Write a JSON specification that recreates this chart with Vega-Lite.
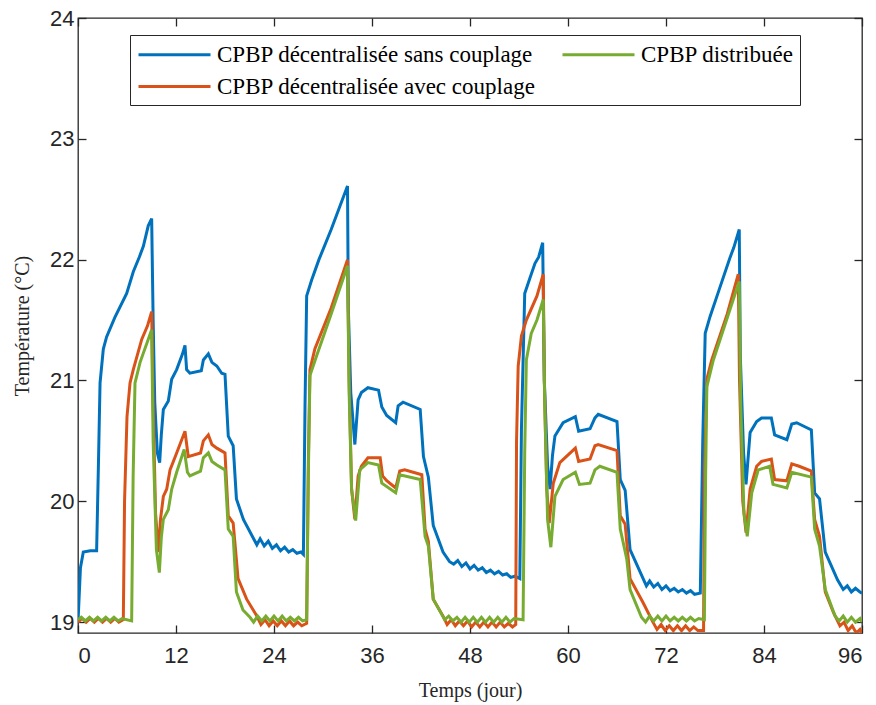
{
  "$schema": "https://vega.github.io/schema/vega-lite/v6.json",
  "autosize": "none",
  "width": 784,
  "height": 615,
  "padding": {"left": 78, "top": 18, "right": 14, "bottom": 72},
  "background": "white",
  "config": {
    "view": {"stroke": "#262626", "strokeWidth": 1.3},
    "axis": {
      "grid": false,
      "domain": false,
      "tickColor": "#262626",
      "tickWidth": 1.3,
      "tickSize": -8,
      "labelFont": "Liberation Sans",
      "labelFontSize": 22,
      "labelColor": "#262626",
      "titleFont": "Liberation Serif",
      "titleFontSize": 20,
      "titleFontWeight": "normal",
      "titleColor": "#262626"
    }
  },
  "datasets": {
    "curves": [
      {"serie": "CPBP décentralisée sans couplage", "t": 0, "T": 19.0},
      {"serie": "CPBP décentralisée sans couplage", "t": 0.3, "T": 19.45},
      {"serie": "CPBP décentralisée sans couplage", "t": 0.65, "T": 19.58},
      {"serie": "CPBP décentralisée sans couplage", "t": 1.5, "T": 19.59},
      {"serie": "CPBP décentralisée sans couplage", "t": 2.28, "T": 19.59},
      {"serie": "CPBP décentralisée sans couplage", "t": 2.5, "T": 20.3},
      {"serie": "CPBP décentralisée sans couplage", "t": 2.7, "T": 20.98},
      {"serie": "CPBP décentralisée sans couplage", "t": 3.1, "T": 21.26},
      {"serie": "CPBP décentralisée sans couplage", "t": 3.5, "T": 21.36},
      {"serie": "CPBP décentralisée sans couplage", "t": 4.5, "T": 21.52},
      {"serie": "CPBP décentralisée sans couplage", "t": 5.96, "T": 21.72},
      {"serie": "CPBP décentralisée sans couplage", "t": 6.77, "T": 21.9},
      {"serie": "CPBP décentralisée sans couplage", "t": 7.5, "T": 22.02},
      {"serie": "CPBP décentralisée sans couplage", "t": 8.0, "T": 22.11},
      {"serie": "CPBP décentralisée sans couplage", "t": 8.6, "T": 22.28},
      {"serie": "CPBP décentralisée sans couplage", "t": 9.02, "T": 22.34},
      {"serie": "CPBP décentralisée sans couplage", "t": 9.2, "T": 21.5},
      {"serie": "CPBP décentralisée sans couplage", "t": 9.4, "T": 20.82},
      {"serie": "CPBP décentralisée sans couplage", "t": 9.72, "T": 20.4},
      {"serie": "CPBP décentralisée sans couplage", "t": 10.0, "T": 20.32},
      {"serie": "CPBP décentralisée sans couplage", "t": 10.2, "T": 20.55},
      {"serie": "CPBP décentralisée sans couplage", "t": 10.45, "T": 20.76},
      {"serie": "CPBP décentralisée sans couplage", "t": 11.06, "T": 20.83},
      {"serie": "CPBP décentralisée sans couplage", "t": 11.47, "T": 21.01},
      {"serie": "CPBP décentralisée sans couplage", "t": 12.08, "T": 21.09},
      {"serie": "CPBP décentralisée sans couplage", "t": 12.8, "T": 21.22},
      {"serie": "CPBP décentralisée sans couplage", "t": 13.1, "T": 21.29},
      {"serie": "CPBP décentralisée sans couplage", "t": 13.3, "T": 21.09},
      {"serie": "CPBP décentralisée sans couplage", "t": 13.7, "T": 21.06},
      {"serie": "CPBP décentralisée sans couplage", "t": 15.1, "T": 21.08},
      {"serie": "CPBP décentralisée sans couplage", "t": 15.35, "T": 21.17},
      {"serie": "CPBP décentralisée sans couplage", "t": 15.96, "T": 21.22},
      {"serie": "CPBP décentralisée sans couplage", "t": 16.4, "T": 21.15},
      {"serie": "CPBP décentralisée sans couplage", "t": 17.0, "T": 21.12},
      {"serie": "CPBP décentralisée sans couplage", "t": 17.6, "T": 21.06},
      {"serie": "CPBP décentralisée sans couplage", "t": 18.0, "T": 21.05},
      {"serie": "CPBP décentralisée sans couplage", "t": 18.4, "T": 20.54},
      {"serie": "CPBP décentralisée sans couplage", "t": 19.0, "T": 20.46},
      {"serie": "CPBP décentralisée sans couplage", "t": 19.4, "T": 20.02},
      {"serie": "CPBP décentralisée sans couplage", "t": 20.25, "T": 19.85},
      {"serie": "CPBP décentralisée sans couplage", "t": 21.9, "T": 19.64},
      {"serie": "CPBP décentralisée sans couplage", "t": 22.3, "T": 19.69},
      {"serie": "CPBP décentralisée sans couplage", "t": 22.8, "T": 19.63},
      {"serie": "CPBP décentralisée sans couplage", "t": 23.3, "T": 19.67},
      {"serie": "CPBP décentralisée sans couplage", "t": 23.8, "T": 19.61},
      {"serie": "CPBP décentralisée sans couplage", "t": 24.3, "T": 19.64},
      {"serie": "CPBP décentralisée sans couplage", "t": 24.8, "T": 19.59},
      {"serie": "CPBP décentralisée sans couplage", "t": 25.3, "T": 19.62},
      {"serie": "CPBP décentralisée sans couplage", "t": 25.8, "T": 19.58},
      {"serie": "CPBP décentralisée sans couplage", "t": 26.3, "T": 19.6},
      {"serie": "CPBP décentralisée sans couplage", "t": 26.8, "T": 19.57},
      {"serie": "CPBP décentralisée sans couplage", "t": 27.3, "T": 19.58},
      {"serie": "CPBP décentralisée sans couplage", "t": 27.6, "T": 19.56},
      {"serie": "CPBP décentralisée sans couplage", "t": 27.8, "T": 20.8},
      {"serie": "CPBP décentralisée sans couplage", "t": 28.0, "T": 21.7},
      {"serie": "CPBP décentralisée sans couplage", "t": 28.6, "T": 21.83},
      {"serie": "CPBP décentralisée sans couplage", "t": 29.5, "T": 22.0},
      {"serie": "CPBP décentralisée sans couplage", "t": 31.0, "T": 22.25},
      {"serie": "CPBP décentralisée sans couplage", "t": 32.0, "T": 22.43},
      {"serie": "CPBP décentralisée sans couplage", "t": 33.0, "T": 22.61},
      {"serie": "CPBP décentralisée sans couplage", "t": 33.1, "T": 21.6},
      {"serie": "CPBP décentralisée sans couplage", "t": 33.4, "T": 20.9},
      {"serie": "CPBP décentralisée sans couplage", "t": 33.9, "T": 20.47},
      {"serie": "CPBP décentralisée sans couplage", "t": 34.3, "T": 20.84},
      {"serie": "CPBP décentralisée sans couplage", "t": 34.7, "T": 20.9},
      {"serie": "CPBP décentralisée sans couplage", "t": 35.5, "T": 20.94},
      {"serie": "CPBP décentralisée sans couplage", "t": 36.8, "T": 20.92},
      {"serie": "CPBP décentralisée sans couplage", "t": 37.2, "T": 20.78},
      {"serie": "CPBP décentralisée sans couplage", "t": 37.8, "T": 20.71},
      {"serie": "CPBP décentralisée sans couplage", "t": 38.9, "T": 20.65},
      {"serie": "CPBP décentralisée sans couplage", "t": 39.2, "T": 20.79},
      {"serie": "CPBP décentralisée sans couplage", "t": 39.8, "T": 20.82},
      {"serie": "CPBP décentralisée sans couplage", "t": 41.9, "T": 20.76},
      {"serie": "CPBP décentralisée sans couplage", "t": 42.3, "T": 20.37},
      {"serie": "CPBP décentralisée sans couplage", "t": 42.9, "T": 20.2},
      {"serie": "CPBP décentralisée sans couplage", "t": 43.5, "T": 19.8},
      {"serie": "CPBP décentralisée sans couplage", "t": 44.7, "T": 19.58},
      {"serie": "CPBP décentralisée sans couplage", "t": 45.5, "T": 19.5},
      {"serie": "CPBP décentralisée sans couplage", "t": 46.0, "T": 19.48},
      {"serie": "CPBP décentralisée sans couplage", "t": 46.5, "T": 19.51},
      {"serie": "CPBP décentralisée sans couplage", "t": 47.0, "T": 19.46},
      {"serie": "CPBP décentralisée sans couplage", "t": 47.5, "T": 19.49},
      {"serie": "CPBP décentralisée sans couplage", "t": 48.0, "T": 19.44},
      {"serie": "CPBP décentralisée sans couplage", "t": 48.5, "T": 19.47},
      {"serie": "CPBP décentralisée sans couplage", "t": 49.0, "T": 19.43},
      {"serie": "CPBP décentralisée sans couplage", "t": 49.5, "T": 19.45},
      {"serie": "CPBP décentralisée sans couplage", "t": 50.0, "T": 19.41},
      {"serie": "CPBP décentralisée sans couplage", "t": 50.5, "T": 19.43},
      {"serie": "CPBP décentralisée sans couplage", "t": 51.0, "T": 19.4},
      {"serie": "CPBP décentralisée sans couplage", "t": 51.5, "T": 19.42},
      {"serie": "CPBP décentralisée sans couplage", "t": 52.0, "T": 19.39},
      {"serie": "CPBP décentralisée sans couplage", "t": 52.5, "T": 19.4},
      {"serie": "CPBP décentralisée sans couplage", "t": 53.0, "T": 19.37},
      {"serie": "CPBP décentralisée sans couplage", "t": 53.5, "T": 19.38},
      {"serie": "CPBP décentralisée sans couplage", "t": 54.1, "T": 19.36},
      {"serie": "CPBP décentralisée sans couplage", "t": 54.3, "T": 20.6},
      {"serie": "CPBP décentralisée sans couplage", "t": 54.7, "T": 21.72},
      {"serie": "CPBP décentralisée sans couplage", "t": 55.35, "T": 21.85},
      {"serie": "CPBP décentralisée sans couplage", "t": 55.96, "T": 21.97},
      {"serie": "CPBP décentralisée sans couplage", "t": 56.4, "T": 22.02},
      {"serie": "CPBP décentralisée sans couplage", "t": 56.9, "T": 22.14},
      {"serie": "CPBP décentralisée sans couplage", "t": 57.1, "T": 21.0},
      {"serie": "CPBP décentralisée sans couplage", "t": 57.5, "T": 20.3},
      {"serie": "CPBP décentralisée sans couplage", "t": 57.8, "T": 20.1},
      {"serie": "CPBP décentralisée sans couplage", "t": 58.1, "T": 20.38},
      {"serie": "CPBP décentralisée sans couplage", "t": 58.4, "T": 20.54},
      {"serie": "CPBP décentralisée sans couplage", "t": 59.4, "T": 20.65},
      {"serie": "CPBP décentralisée sans couplage", "t": 60.9, "T": 20.7},
      {"serie": "CPBP décentralisée sans couplage", "t": 61.3, "T": 20.58},
      {"serie": "CPBP décentralisée sans couplage", "t": 62.7, "T": 20.6},
      {"serie": "CPBP décentralisée sans couplage", "t": 63.3, "T": 20.69},
      {"serie": "CPBP décentralisée sans couplage", "t": 63.7, "T": 20.72},
      {"serie": "CPBP décentralisée sans couplage", "t": 66.0, "T": 20.66},
      {"serie": "CPBP décentralisée sans couplage", "t": 66.4, "T": 20.18},
      {"serie": "CPBP décentralisée sans couplage", "t": 67.0, "T": 20.09},
      {"serie": "CPBP décentralisée sans couplage", "t": 67.6, "T": 19.6},
      {"serie": "CPBP décentralisée sans couplage", "t": 69.6, "T": 19.3},
      {"serie": "CPBP décentralisée sans couplage", "t": 70.0, "T": 19.34},
      {"serie": "CPBP décentralisée sans couplage", "t": 70.5, "T": 19.29},
      {"serie": "CPBP décentralisée sans couplage", "t": 71.0, "T": 19.32},
      {"serie": "CPBP décentralisée sans couplage", "t": 71.5, "T": 19.27},
      {"serie": "CPBP décentralisée sans couplage", "t": 72.0, "T": 19.3},
      {"serie": "CPBP décentralisée sans couplage", "t": 72.5, "T": 19.26},
      {"serie": "CPBP décentralisée sans couplage", "t": 73.0, "T": 19.28},
      {"serie": "CPBP décentralisée sans couplage", "t": 73.5, "T": 19.25},
      {"serie": "CPBP décentralisée sans couplage", "t": 74.0, "T": 19.27},
      {"serie": "CPBP décentralisée sans couplage", "t": 74.5, "T": 19.24},
      {"serie": "CPBP décentralisée sans couplage", "t": 75.0, "T": 19.26},
      {"serie": "CPBP décentralisée sans couplage", "t": 75.5, "T": 19.23},
      {"serie": "CPBP décentralisée sans couplage", "t": 76.2, "T": 19.24},
      {"serie": "CPBP décentralisée sans couplage", "t": 76.5, "T": 20.5},
      {"serie": "CPBP décentralisée sans couplage", "t": 76.8, "T": 21.39},
      {"serie": "CPBP décentralisée sans couplage", "t": 77.4, "T": 21.53},
      {"serie": "CPBP décentralisée sans couplage", "t": 78.5, "T": 21.75},
      {"serie": "CPBP décentralisée sans couplage", "t": 79.8, "T": 22.01},
      {"serie": "CPBP décentralisée sans couplage", "t": 80.3, "T": 22.1},
      {"serie": "CPBP décentralisée sans couplage", "t": 80.97, "T": 22.25},
      {"serie": "CPBP décentralisée sans couplage", "t": 81.1, "T": 21.2},
      {"serie": "CPBP décentralisée sans couplage", "t": 81.5, "T": 20.4},
      {"serie": "CPBP décentralisée sans couplage", "t": 81.8, "T": 20.14},
      {"serie": "CPBP décentralisée sans couplage", "t": 82.3, "T": 20.57},
      {"serie": "CPBP décentralisée sans couplage", "t": 83.1, "T": 20.66},
      {"serie": "CPBP décentralisée sans couplage", "t": 83.7, "T": 20.69},
      {"serie": "CPBP décentralisée sans couplage", "t": 84.9, "T": 20.69},
      {"serie": "CPBP décentralisée sans couplage", "t": 85.3, "T": 20.55},
      {"serie": "CPBP décentralisée sans couplage", "t": 86.8, "T": 20.51},
      {"serie": "CPBP décentralisée sans couplage", "t": 87.4, "T": 20.64},
      {"serie": "CPBP décentralisée sans couplage", "t": 88.0, "T": 20.65},
      {"serie": "CPBP décentralisée sans couplage", "t": 89.8, "T": 20.59},
      {"serie": "CPBP décentralisée sans couplage", "t": 90.2, "T": 20.07},
      {"serie": "CPBP décentralisée sans couplage", "t": 90.8, "T": 20.02},
      {"serie": "CPBP décentralisée sans couplage", "t": 91.5, "T": 19.58},
      {"serie": "CPBP décentralisée sans couplage", "t": 93.0, "T": 19.35},
      {"serie": "CPBP décentralisée sans couplage", "t": 93.7, "T": 19.27},
      {"serie": "CPBP décentralisée sans couplage", "t": 94.2, "T": 19.3},
      {"serie": "CPBP décentralisée sans couplage", "t": 94.7, "T": 19.25},
      {"serie": "CPBP décentralisée sans couplage", "t": 95.2, "T": 19.28},
      {"serie": "CPBP décentralisée sans couplage", "t": 95.75, "T": 19.25},
      {"serie": "CPBP décentralisée sans couplage", "t": 96, "T": 19.24},

      {"serie": "CPBP décentralisée avec couplage", "t": 0, "T": 19.0},
      {"serie": "CPBP décentralisée avec couplage", "t": 0.5, "T": 19.03},
      {"serie": "CPBP décentralisée avec couplage", "t": 1.0, "T": 19.0},
      {"serie": "CPBP décentralisée avec couplage", "t": 1.5, "T": 19.03},
      {"serie": "CPBP décentralisée avec couplage", "t": 2.0, "T": 19.0},
      {"serie": "CPBP décentralisée avec couplage", "t": 2.5, "T": 19.03},
      {"serie": "CPBP décentralisée avec couplage", "t": 3.0, "T": 19.0},
      {"serie": "CPBP décentralisée avec couplage", "t": 3.5, "T": 19.03},
      {"serie": "CPBP décentralisée avec couplage", "t": 4.0, "T": 19.0},
      {"serie": "CPBP décentralisée avec couplage", "t": 4.5, "T": 19.03},
      {"serie": "CPBP décentralisée avec couplage", "t": 5.0, "T": 19.0},
      {"serie": "CPBP décentralisée avec couplage", "t": 5.55, "T": 19.02},
      {"serie": "CPBP décentralisée avec couplage", "t": 5.7, "T": 20.0},
      {"serie": "CPBP décentralisée avec couplage", "t": 6.0, "T": 20.7},
      {"serie": "CPBP décentralisée avec couplage", "t": 6.37, "T": 20.98},
      {"serie": "CPBP décentralisée avec couplage", "t": 6.77, "T": 21.09},
      {"serie": "CPBP décentralisée avec couplage", "t": 7.8, "T": 21.34},
      {"serie": "CPBP décentralisée avec couplage", "t": 8.5, "T": 21.45},
      {"serie": "CPBP décentralisée avec couplage", "t": 9.02, "T": 21.57},
      {"serie": "CPBP décentralisée avec couplage", "t": 9.2, "T": 20.8},
      {"serie": "CPBP décentralisée avec couplage", "t": 9.5, "T": 19.9},
      {"serie": "CPBP décentralisée avec couplage", "t": 9.84, "T": 19.58},
      {"serie": "CPBP décentralisée avec couplage", "t": 10.1, "T": 19.85},
      {"serie": "CPBP décentralisée avec couplage", "t": 10.45, "T": 20.04},
      {"serie": "CPBP décentralisée avec couplage", "t": 10.86, "T": 20.1},
      {"serie": "CPBP décentralisée avec couplage", "t": 11.27, "T": 20.26},
      {"serie": "CPBP décentralisée avec couplage", "t": 12.08, "T": 20.4},
      {"serie": "CPBP décentralisée avec couplage", "t": 13.1, "T": 20.58},
      {"serie": "CPBP décentralisée avec couplage", "t": 13.5, "T": 20.37},
      {"serie": "CPBP décentralisée avec couplage", "t": 15.0, "T": 20.4},
      {"serie": "CPBP décentralisée avec couplage", "t": 15.35, "T": 20.5},
      {"serie": "CPBP décentralisée avec couplage", "t": 15.96, "T": 20.55},
      {"serie": "CPBP décentralisée avec couplage", "t": 16.4, "T": 20.47},
      {"serie": "CPBP décentralisée avec couplage", "t": 17.0, "T": 20.44},
      {"serie": "CPBP décentralisée avec couplage", "t": 18.0, "T": 20.4},
      {"serie": "CPBP décentralisée avec couplage", "t": 18.4, "T": 19.88},
      {"serie": "CPBP décentralisée avec couplage", "t": 19.0, "T": 19.82},
      {"serie": "CPBP décentralisée avec couplage", "t": 19.6, "T": 19.36},
      {"serie": "CPBP décentralisée avec couplage", "t": 20.65, "T": 19.19},
      {"serie": "CPBP décentralisée avec couplage", "t": 21.9, "T": 19.05},
      {"serie": "CPBP décentralisée avec couplage", "t": 22.4, "T": 18.98},
      {"serie": "CPBP décentralisée avec couplage", "t": 22.9, "T": 19.02},
      {"serie": "CPBP décentralisée avec couplage", "t": 23.4, "T": 18.97},
      {"serie": "CPBP décentralisée avec couplage", "t": 23.9, "T": 19.01},
      {"serie": "CPBP décentralisée avec couplage", "t": 24.4, "T": 18.97},
      {"serie": "CPBP décentralisée avec couplage", "t": 24.9, "T": 19.01},
      {"serie": "CPBP décentralisée avec couplage", "t": 25.4, "T": 18.97},
      {"serie": "CPBP décentralisée avec couplage", "t": 25.9, "T": 19.01},
      {"serie": "CPBP décentralisée avec couplage", "t": 26.4, "T": 18.97},
      {"serie": "CPBP décentralisée avec couplage", "t": 26.9, "T": 19.0},
      {"serie": "CPBP décentralisée avec couplage", "t": 27.4, "T": 18.97},
      {"serie": "CPBP décentralisée avec couplage", "t": 28.0, "T": 18.99},
      {"serie": "CPBP décentralisée avec couplage", "t": 28.2, "T": 20.3},
      {"serie": "CPBP décentralisée avec couplage", "t": 28.4, "T": 21.09},
      {"serie": "CPBP décentralisée avec couplage", "t": 29.0, "T": 21.26},
      {"serie": "CPBP décentralisée avec couplage", "t": 31.0, "T": 21.6},
      {"serie": "CPBP décentralisée avec couplage", "t": 33.0, "T": 22.0},
      {"serie": "CPBP décentralisée avec couplage", "t": 33.2, "T": 21.0},
      {"serie": "CPBP décentralisée avec couplage", "t": 33.5, "T": 20.1},
      {"serie": "CPBP décentralisée avec couplage", "t": 33.9, "T": 19.85},
      {"serie": "CPBP décentralisée avec couplage", "t": 34.3, "T": 20.21},
      {"serie": "CPBP décentralisée avec couplage", "t": 34.7, "T": 20.29},
      {"serie": "CPBP décentralisée avec couplage", "t": 35.5, "T": 20.36},
      {"serie": "CPBP décentralisée avec couplage", "t": 37.0, "T": 20.36},
      {"serie": "CPBP décentralisée avec couplage", "t": 37.3, "T": 20.21},
      {"serie": "CPBP décentralisée avec couplage", "t": 37.8, "T": 20.17},
      {"serie": "CPBP décentralisée avec couplage", "t": 38.9, "T": 20.11},
      {"serie": "CPBP décentralisée avec couplage", "t": 39.4, "T": 20.25},
      {"serie": "CPBP décentralisée avec couplage", "t": 40.0, "T": 20.26},
      {"serie": "CPBP décentralisée avec couplage", "t": 42.1, "T": 20.22},
      {"serie": "CPBP décentralisée avec couplage", "t": 42.5, "T": 19.77},
      {"serie": "CPBP décentralisée avec couplage", "t": 42.9, "T": 19.67},
      {"serie": "CPBP décentralisée avec couplage", "t": 43.5, "T": 19.19},
      {"serie": "CPBP décentralisée avec couplage", "t": 44.7, "T": 19.05},
      {"serie": "CPBP décentralisée avec couplage", "t": 45.2, "T": 18.98},
      {"serie": "CPBP décentralisée avec couplage", "t": 45.7, "T": 19.02},
      {"serie": "CPBP décentralisée avec couplage", "t": 46.2, "T": 18.97},
      {"serie": "CPBP décentralisée avec couplage", "t": 46.7, "T": 19.01},
      {"serie": "CPBP décentralisée avec couplage", "t": 47.2, "T": 18.97},
      {"serie": "CPBP décentralisée avec couplage", "t": 47.7, "T": 19.01},
      {"serie": "CPBP décentralisée avec couplage", "t": 48.2, "T": 18.96},
      {"serie": "CPBP décentralisée avec couplage", "t": 48.7, "T": 19.0},
      {"serie": "CPBP décentralisée avec couplage", "t": 49.2, "T": 18.96},
      {"serie": "CPBP décentralisée avec couplage", "t": 49.7, "T": 19.0},
      {"serie": "CPBP décentralisée avec couplage", "t": 50.2, "T": 18.96},
      {"serie": "CPBP décentralisée avec couplage", "t": 50.7, "T": 19.0},
      {"serie": "CPBP décentralisée avec couplage", "t": 51.2, "T": 18.96},
      {"serie": "CPBP décentralisée avec couplage", "t": 51.7, "T": 19.0},
      {"serie": "CPBP décentralisée avec couplage", "t": 52.2, "T": 18.96},
      {"serie": "CPBP décentralisée avec couplage", "t": 52.7, "T": 18.99},
      {"serie": "CPBP décentralisée avec couplage", "t": 53.2, "T": 18.96},
      {"serie": "CPBP décentralisée avec couplage", "t": 53.6, "T": 18.98},
      {"serie": "CPBP décentralisée avec couplage", "t": 53.7, "T": 20.5},
      {"serie": "CPBP décentralisée avec couplage", "t": 53.9, "T": 21.12},
      {"serie": "CPBP décentralisée avec couplage", "t": 54.3, "T": 21.37},
      {"serie": "CPBP décentralisée avec couplage", "t": 54.9, "T": 21.5},
      {"serie": "CPBP décentralisée avec couplage", "t": 56.2, "T": 21.7},
      {"serie": "CPBP décentralisée avec couplage", "t": 56.97, "T": 21.88},
      {"serie": "CPBP décentralisée avec couplage", "t": 57.1, "T": 21.0},
      {"serie": "CPBP décentralisée avec couplage", "t": 57.4, "T": 20.1},
      {"serie": "CPBP décentralisée avec couplage", "t": 57.7, "T": 19.82},
      {"serie": "CPBP décentralisée avec couplage", "t": 58.2, "T": 20.15},
      {"serie": "CPBP décentralisée avec couplage", "t": 59.0, "T": 20.32},
      {"serie": "CPBP décentralisée avec couplage", "t": 60.9, "T": 20.44},
      {"serie": "CPBP décentralisée avec couplage", "t": 61.3, "T": 20.33},
      {"serie": "CPBP décentralisée avec couplage", "t": 62.7, "T": 20.35},
      {"serie": "CPBP décentralisée avec couplage", "t": 63.3, "T": 20.46},
      {"serie": "CPBP décentralisée avec couplage", "t": 63.7, "T": 20.47},
      {"serie": "CPBP décentralisée avec couplage", "t": 66.0, "T": 20.42},
      {"serie": "CPBP décentralisée avec couplage", "t": 66.4, "T": 19.88},
      {"serie": "CPBP décentralisée avec couplage", "t": 67.0, "T": 19.81},
      {"serie": "CPBP décentralisée avec couplage", "t": 67.6, "T": 19.36},
      {"serie": "CPBP décentralisée avec couplage", "t": 69.2, "T": 19.16},
      {"serie": "CPBP décentralisée avec couplage", "t": 70.4, "T": 19.0},
      {"serie": "CPBP décentralisée avec couplage", "t": 70.9, "T": 18.94},
      {"serie": "CPBP décentralisée avec couplage", "t": 71.4, "T": 18.98},
      {"serie": "CPBP décentralisée avec couplage", "t": 71.9, "T": 18.93},
      {"serie": "CPBP décentralisée avec couplage", "t": 72.4, "T": 18.97},
      {"serie": "CPBP décentralisée avec couplage", "t": 72.9, "T": 18.93},
      {"serie": "CPBP décentralisée avec couplage", "t": 73.4, "T": 18.97},
      {"serie": "CPBP décentralisée avec couplage", "t": 73.9, "T": 18.93},
      {"serie": "CPBP décentralisée avec couplage", "t": 74.4, "T": 18.97},
      {"serie": "CPBP décentralisée avec couplage", "t": 74.9, "T": 18.93},
      {"serie": "CPBP décentralisée avec couplage", "t": 75.4, "T": 18.96},
      {"serie": "CPBP décentralisée avec couplage", "t": 75.9, "T": 18.93},
      {"serie": "CPBP décentralisée avec couplage", "t": 76.6, "T": 18.93},
      {"serie": "CPBP décentralisée avec couplage", "t": 76.7, "T": 20.2},
      {"serie": "CPBP décentralisée avec couplage", "t": 77.0, "T": 21.01},
      {"serie": "CPBP décentralisée avec couplage", "t": 77.6, "T": 21.17},
      {"serie": "CPBP décentralisée avec couplage", "t": 79.5, "T": 21.55},
      {"serie": "CPBP décentralisée avec couplage", "t": 80.85, "T": 21.88},
      {"serie": "CPBP décentralisée avec couplage", "t": 81.0, "T": 21.0},
      {"serie": "CPBP décentralisée avec couplage", "t": 81.4, "T": 20.0},
      {"serie": "CPBP décentralisée avec couplage", "t": 81.8, "T": 19.74},
      {"serie": "CPBP décentralisée avec couplage", "t": 82.3, "T": 20.1},
      {"serie": "CPBP décentralisée avec couplage", "t": 83.1, "T": 20.29},
      {"serie": "CPBP décentralisée avec couplage", "t": 83.7, "T": 20.33},
      {"serie": "CPBP décentralisée avec couplage", "t": 84.9, "T": 20.35},
      {"serie": "CPBP décentralisée avec couplage", "t": 85.3, "T": 20.18},
      {"serie": "CPBP décentralisée avec couplage", "t": 86.8, "T": 20.17},
      {"serie": "CPBP décentralisée avec couplage", "t": 87.4, "T": 20.31},
      {"serie": "CPBP décentralisée avec couplage", "t": 88.3, "T": 20.29},
      {"serie": "CPBP décentralisée avec couplage", "t": 89.8, "T": 20.25},
      {"serie": "CPBP décentralisée avec couplage", "t": 90.2, "T": 19.85},
      {"serie": "CPBP décentralisée avec couplage", "t": 90.8, "T": 19.71},
      {"serie": "CPBP décentralisée avec couplage", "t": 91.5, "T": 19.25},
      {"serie": "CPBP décentralisée avec couplage", "t": 92.5, "T": 19.08},
      {"serie": "CPBP décentralisée avec couplage", "t": 93.3, "T": 18.97},
      {"serie": "CPBP décentralisée avec couplage", "t": 93.8, "T": 19.0},
      {"serie": "CPBP décentralisée avec couplage", "t": 94.3, "T": 18.93},
      {"serie": "CPBP décentralisée avec couplage", "t": 94.8, "T": 18.97},
      {"serie": "CPBP décentralisée avec couplage", "t": 95.3, "T": 18.91},
      {"serie": "CPBP décentralisée avec couplage", "t": 95.75, "T": 18.94},
      {"serie": "CPBP décentralisée avec couplage", "t": 96, "T": 18.91},

      {"serie": "CPBP distribuée", "t": 0, "T": 19.02},
      {"serie": "CPBP distribuée", "t": 0.4, "T": 19.04},
      {"serie": "CPBP distribuée", "t": 0.9, "T": 19.01},
      {"serie": "CPBP distribuée", "t": 1.4, "T": 19.04},
      {"serie": "CPBP distribuée", "t": 1.9, "T": 19.01},
      {"serie": "CPBP distribuée", "t": 2.4, "T": 19.04},
      {"serie": "CPBP distribuée", "t": 2.9, "T": 19.01},
      {"serie": "CPBP distribuée", "t": 3.4, "T": 19.04},
      {"serie": "CPBP distribuée", "t": 3.9, "T": 19.01},
      {"serie": "CPBP distribuée", "t": 4.4, "T": 19.04},
      {"serie": "CPBP distribuée", "t": 4.9, "T": 19.01},
      {"serie": "CPBP distribuée", "t": 5.4, "T": 19.03},
      {"serie": "CPBP distribuée", "t": 6.57, "T": 19.01},
      {"serie": "CPBP distribuée", "t": 6.75, "T": 20.2},
      {"serie": "CPBP distribuée", "t": 6.98, "T": 20.98},
      {"serie": "CPBP distribuée", "t": 7.6, "T": 21.15},
      {"serie": "CPBP distribuée", "t": 9.02, "T": 21.42},
      {"serie": "CPBP distribuée", "t": 9.2, "T": 20.5},
      {"serie": "CPBP distribuée", "t": 9.6, "T": 19.6},
      {"serie": "CPBP distribuée", "t": 9.96, "T": 19.41},
      {"serie": "CPBP distribuée", "t": 10.2, "T": 19.7},
      {"serie": "CPBP distribuée", "t": 10.45, "T": 19.85},
      {"serie": "CPBP distribuée", "t": 11.06, "T": 19.93},
      {"serie": "CPBP distribuée", "t": 11.47, "T": 20.1},
      {"serie": "CPBP distribuée", "t": 12.08, "T": 20.24},
      {"serie": "CPBP distribuée", "t": 13.0, "T": 20.43},
      {"serie": "CPBP distribuée", "t": 13.4, "T": 20.24},
      {"serie": "CPBP distribuée", "t": 13.7, "T": 20.21},
      {"serie": "CPBP distribuée", "t": 15.0, "T": 20.25},
      {"serie": "CPBP distribuée", "t": 15.35, "T": 20.36},
      {"serie": "CPBP distribuée", "t": 15.96, "T": 20.4},
      {"serie": "CPBP distribuée", "t": 16.4, "T": 20.33},
      {"serie": "CPBP distribuée", "t": 17.0, "T": 20.3},
      {"serie": "CPBP distribuée", "t": 18.0, "T": 20.26},
      {"serie": "CPBP distribuée", "t": 18.4, "T": 19.77},
      {"serie": "CPBP distribuée", "t": 19.0, "T": 19.71},
      {"serie": "CPBP distribuée", "t": 19.4, "T": 19.25},
      {"serie": "CPBP distribuée", "t": 20.2, "T": 19.1},
      {"serie": "CPBP distribuée", "t": 21.06, "T": 19.04},
      {"serie": "CPBP distribuée", "t": 21.5, "T": 19.0},
      {"serie": "CPBP distribuée", "t": 22.0, "T": 19.05},
      {"serie": "CPBP distribuée", "t": 22.5, "T": 19.01},
      {"serie": "CPBP distribuée", "t": 23.0, "T": 19.05},
      {"serie": "CPBP distribuée", "t": 23.5, "T": 19.01},
      {"serie": "CPBP distribuée", "t": 24.0, "T": 19.05},
      {"serie": "CPBP distribuée", "t": 24.5, "T": 19.01},
      {"serie": "CPBP distribuée", "t": 25.0, "T": 19.05},
      {"serie": "CPBP distribuée", "t": 25.5, "T": 19.01},
      {"serie": "CPBP distribuée", "t": 26.0, "T": 19.04},
      {"serie": "CPBP distribuée", "t": 26.5, "T": 19.01},
      {"serie": "CPBP distribuée", "t": 27.0, "T": 19.04},
      {"serie": "CPBP distribuée", "t": 27.5, "T": 19.01},
      {"serie": "CPBP distribuée", "t": 28.0, "T": 19.02},
      {"serie": "CPBP distribuée", "t": 28.2, "T": 20.2},
      {"serie": "CPBP distribuée", "t": 28.4, "T": 21.04},
      {"serie": "CPBP distribuée", "t": 29.2, "T": 21.2},
      {"serie": "CPBP distribuée", "t": 31.0, "T": 21.55},
      {"serie": "CPBP distribuée", "t": 33.0, "T": 21.95},
      {"serie": "CPBP distribuée", "t": 33.2, "T": 20.9},
      {"serie": "CPBP distribuée", "t": 33.5, "T": 20.1},
      {"serie": "CPBP distribuée", "t": 34.0, "T": 19.84},
      {"serie": "CPBP distribuée", "t": 34.5, "T": 20.26},
      {"serie": "CPBP distribuée", "t": 35.5, "T": 20.32},
      {"serie": "CPBP distribuée", "t": 36.8, "T": 20.3},
      {"serie": "CPBP distribuée", "t": 37.2, "T": 20.15},
      {"serie": "CPBP distribuée", "t": 38.9, "T": 20.07},
      {"serie": "CPBP distribuée", "t": 39.4, "T": 20.22},
      {"serie": "CPBP distribuée", "t": 41.9, "T": 20.18},
      {"serie": "CPBP distribuée", "t": 42.5, "T": 19.71},
      {"serie": "CPBP distribuée", "t": 42.9, "T": 19.63},
      {"serie": "CPBP distribuée", "t": 43.5, "T": 19.19},
      {"serie": "CPBP distribuée", "t": 44.9, "T": 19.02},
      {"serie": "CPBP distribuée", "t": 45.4, "T": 19.05},
      {"serie": "CPBP distribuée", "t": 45.9, "T": 19.01},
      {"serie": "CPBP distribuée", "t": 46.4, "T": 19.04},
      {"serie": "CPBP distribuée", "t": 46.9, "T": 19.0},
      {"serie": "CPBP distribuée", "t": 47.4, "T": 19.04},
      {"serie": "CPBP distribuée", "t": 47.9, "T": 19.0},
      {"serie": "CPBP distribuée", "t": 48.4, "T": 19.04},
      {"serie": "CPBP distribuée", "t": 48.9, "T": 19.0},
      {"serie": "CPBP distribuée", "t": 49.4, "T": 19.04},
      {"serie": "CPBP distribuée", "t": 49.9, "T": 19.0},
      {"serie": "CPBP distribuée", "t": 50.4, "T": 19.04},
      {"serie": "CPBP distribuée", "t": 50.9, "T": 19.0},
      {"serie": "CPBP distribuée", "t": 51.4, "T": 19.04},
      {"serie": "CPBP distribuée", "t": 51.9, "T": 19.0},
      {"serie": "CPBP distribuée", "t": 52.4, "T": 19.04},
      {"serie": "CPBP distribuée", "t": 52.9, "T": 19.0},
      {"serie": "CPBP distribuée", "t": 53.4, "T": 19.03},
      {"serie": "CPBP distribuée", "t": 54.5, "T": 19.02},
      {"serie": "CPBP distribuée", "t": 54.7, "T": 20.4},
      {"serie": "CPBP distribuée", "t": 54.9, "T": 21.17},
      {"serie": "CPBP distribuée", "t": 55.5, "T": 21.39},
      {"serie": "CPBP distribuée", "t": 56.2, "T": 21.5},
      {"serie": "CPBP distribuée", "t": 56.97, "T": 21.67},
      {"serie": "CPBP distribuée", "t": 57.15, "T": 20.8},
      {"serie": "CPBP distribuée", "t": 57.5, "T": 19.85},
      {"serie": "CPBP distribuée", "t": 57.9, "T": 19.62},
      {"serie": "CPBP distribuée", "t": 58.4, "T": 20.04},
      {"serie": "CPBP distribuée", "t": 59.4, "T": 20.18},
      {"serie": "CPBP distribuée", "t": 60.9, "T": 20.24},
      {"serie": "CPBP distribuée", "t": 61.4, "T": 20.14},
      {"serie": "CPBP distribuée", "t": 62.7, "T": 20.15},
      {"serie": "CPBP distribuée", "t": 63.3, "T": 20.26},
      {"serie": "CPBP distribuée", "t": 63.9, "T": 20.29},
      {"serie": "CPBP distribuée", "t": 66.0, "T": 20.24},
      {"serie": "CPBP distribuée", "t": 66.4, "T": 19.77},
      {"serie": "CPBP distribuée", "t": 67.2, "T": 19.52},
      {"serie": "CPBP distribuée", "t": 67.6, "T": 19.27},
      {"serie": "CPBP distribuée", "t": 69.0, "T": 19.04},
      {"serie": "CPBP distribuée", "t": 69.5, "T": 19.0},
      {"serie": "CPBP distribuée", "t": 70.0, "T": 19.05},
      {"serie": "CPBP distribuée", "t": 70.5, "T": 19.01},
      {"serie": "CPBP distribuée", "t": 71.0, "T": 19.05},
      {"serie": "CPBP distribuée", "t": 71.5, "T": 19.01},
      {"serie": "CPBP distribuée", "t": 72.0, "T": 19.05},
      {"serie": "CPBP distribuée", "t": 72.5, "T": 19.01},
      {"serie": "CPBP distribuée", "t": 73.0, "T": 19.04},
      {"serie": "CPBP distribuée", "t": 73.5, "T": 19.01},
      {"serie": "CPBP distribuée", "t": 74.0, "T": 19.04},
      {"serie": "CPBP distribuée", "t": 74.5, "T": 19.01},
      {"serie": "CPBP distribuée", "t": 75.0, "T": 19.04},
      {"serie": "CPBP distribuée", "t": 75.5, "T": 19.01},
      {"serie": "CPBP distribuée", "t": 76.0, "T": 19.03},
      {"serie": "CPBP distribuée", "t": 76.7, "T": 19.02},
      {"serie": "CPBP distribuée", "t": 76.85, "T": 20.2},
      {"serie": "CPBP distribuée", "t": 77.0, "T": 20.95},
      {"serie": "CPBP distribuée", "t": 77.8, "T": 21.17},
      {"serie": "CPBP distribuée", "t": 80.97, "T": 21.82},
      {"serie": "CPBP distribuée", "t": 81.15, "T": 20.8},
      {"serie": "CPBP distribuée", "t": 81.55, "T": 19.9},
      {"serie": "CPBP distribuée", "t": 81.95, "T": 19.71},
      {"serie": "CPBP distribuée", "t": 82.5, "T": 20.07},
      {"serie": "CPBP distribuée", "t": 83.3, "T": 20.26},
      {"serie": "CPBP distribuée", "t": 84.7, "T": 20.29},
      {"serie": "CPBP distribuée", "t": 85.1, "T": 20.14},
      {"serie": "CPBP distribuée", "t": 86.8, "T": 20.11},
      {"serie": "CPBP distribuée", "t": 87.4, "T": 20.24},
      {"serie": "CPBP distribuée", "t": 89.8, "T": 20.2},
      {"serie": "CPBP distribuée", "t": 90.2, "T": 19.77},
      {"serie": "CPBP distribuée", "t": 90.8, "T": 19.63},
      {"serie": "CPBP distribuée", "t": 91.5, "T": 19.27},
      {"serie": "CPBP distribuée", "t": 92.7, "T": 19.05},
      {"serie": "CPBP distribuée", "t": 93.2, "T": 19.01},
      {"serie": "CPBP distribuée", "t": 93.7, "T": 19.05},
      {"serie": "CPBP distribuée", "t": 94.2, "T": 19.0},
      {"serie": "CPBP distribuée", "t": 94.7, "T": 19.04},
      {"serie": "CPBP distribuée", "t": 95.2, "T": 19.0},
      {"serie": "CPBP distribuée", "t": 95.75, "T": 19.03},
      {"serie": "CPBP distribuée", "t": 96, "T": 19.0}
    ]
  },
  "data": {"name": "curves"},
  "layer": [
    {
      "encoding": {
        "x": {
          "field": "t", "type": "quantitative",
          "scale": {"domain": [0, 96], "nice": false, "zero": false},
          "axis": {"orient": "bottom", "values": [0, 12, 24, 36, 48, 60, 72, 84, 96], "title": "Temps (jour)", "labelPadding": 20, "titlePadding": 14}
        },
        "y": {
          "field": "T", "type": "quantitative",
          "scale": {"domain": [18.91, 24], "nice": false, "zero": false},
          "axis": {"orient": "left", "values": [19, 20, 21, 22, 23, 24], "title": "Température (°C)", "labelPadding": 12, "titlePadding": 17}
        },
        "color": {
          "field": "serie", "type": "nominal",
          "scale": {
            "domain": ["CPBP décentralisée sans couplage", "CPBP distribuée", "CPBP décentralisée avec couplage"],
            "range": ["#0072BD", "#77AC30", "#D95319"]
          },
          "legend": {
            "title": null,
            "orient": "none",
            "legendX": 52,
            "legendY": 17,
            "columns": 2,
            "direction": "horizontal",
            "strokeColor": "#262626",
            "fillColor": "white",
            "padding": 6,
            "columnPadding": 20,
            "rowPadding": 6,
            "symbolType": "M-3,0H3",
            "symbolSize": 576,
            "symbolStrokeWidth": 3,
            "symbolOffset": 25,
            "labelOffset": 29,
            "labelFont": "Liberation Serif",
            "labelFontSize": 23,
            "labelColor": "black",
            "labelLimit": 500
          }
        }
      },
      "layer": [
        {
          "transform": [{"filter": "datum.serie === 'CPBP décentralisée sans couplage'"}],
          "mark": {"type": "line", "strokeWidth": 3, "clip": true}
        },
        {
          "transform": [{"filter": "datum.serie === 'CPBP décentralisée avec couplage'"}],
          "mark": {"type": "line", "strokeWidth": 3, "clip": true}
        },
        {
          "transform": [{"filter": "datum.serie === 'CPBP distribuée'"}],
          "mark": {"type": "line", "strokeWidth": 3, "clip": true}
        }
      ]
    },
    {
      "transform": [{"filter": "datum.serie === 'CPBP distribuée'"}],
      "mark": {"type": "line", "strokeOpacity": 0},
      "encoding": {
        "x": {"field": "t", "type": "quantitative", "axis": {"orient": "top", "values": [0, 12, 24, 36, 48, 60, 72, 84, 96], "labels": false, "title": null}},
        "y": {"field": "T", "type": "quantitative", "axis": {"orient": "right", "values": [19, 20, 21, 22, 23, 24], "labels": false, "title": null}}
      }
    }
  ],
  "resolve": {"axis": {"x": "independent", "y": "independent"}}
}
